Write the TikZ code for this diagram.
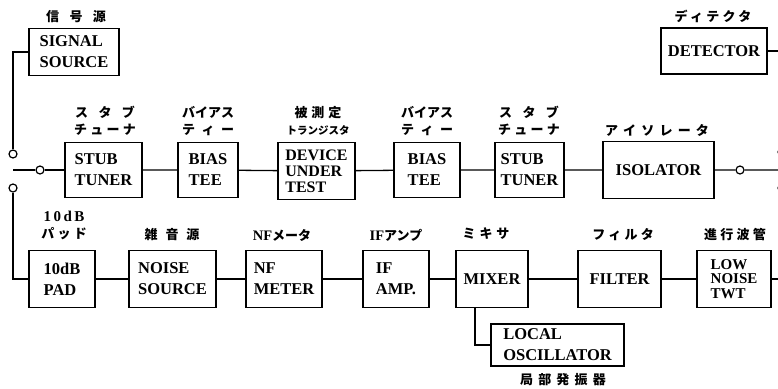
\documentclass[tikz,border=0pt]{standalone}
\usepackage{fontspec}
\setmainfont{Liberation Serif}
\newfontfamily\jfont{Noto Sans CJK JP}
\newfontfamily\jfontw{Noto Sans CJK JP}[LetterSpace=25]
\usetikzlibrary{positioning}

\begin{document}
\begin{tikzpicture}[x=1pt, y=-1pt,
    blk/.style={draw, line width=1.6pt, align=left, inner sep=2pt,
      font=\fontsize{16.5}{21}\selectfont\bfseries},
    jlab/.style={font=\fontsize{13}{17}\selectfont\jfont\bfseries, align=center, inner sep=0pt},
    jlabw/.style={jlab, font=\fontsize{13}{17}\selectfont\jfontw\bfseries},
    term/.style={circle, draw, fill=white, line width=1.2pt, minimum size=8pt, inner sep=0pt},
    wire/.style={line width=1.3pt}]
  \useasboundingbox (0,0) rectangle (778,388);
  \clip (0,0) rectangle (778,388);
  % upper blocks
  \node[blk, minimum width=90pt, minimum height=47pt]  (sigsrc) at (74,52)    {SIGNAL\\SOURCE};
  \node[blk, minimum width=106pt, minimum height=46pt] (det)    at (714,51)   {DETECTOR};
  \node[blk, minimum width=77pt, minimum height=55pt]  (stub1)  at (103.5,170) {STUB\\TUNER};
  \node[blk, minimum width=60pt, minimum height=55pt]  (bias1)  at (208,170)  {BIAS\\TEE};
  \node[blk, minimum width=77pt, minimum height=57pt, font=\fontsize{16}{16}\selectfont\bfseries]
                                                       (dut)    at (316.5,171) {DEVICE\\UNDER\\TEST};
  \node[blk, minimum width=66pt, minimum height=55pt]  (bias2)  at (427,170)  {BIAS\\TEE};
  \node[blk, minimum width=69pt, minimum height=55pt]  (stub2)  at (529.5,170) {STUB\\TUNER};
  \node[blk, minimum width=111pt, minimum height=57pt] (iso)    at (658.5,170) {ISOLATOR};
  % lower blocks
  \node[blk, minimum width=66pt, minimum height=57pt]  (pad)    at (62,279)   {10dB\\PAD};
  \node[blk, minimum width=87pt, minimum height=57pt]  (noise)  at (172.5,279) {NOISE\\SOURCE};
  \node[blk, minimum width=76pt, minimum height=57pt]  (nfm)    at (284,279)  {NF\\METER};
  \node[blk, minimum width=66pt, minimum height=57pt]  (ifamp)  at (396,279)  {IF\\AMP.};
  \node[blk, minimum width=72pt, minimum height=57pt]  (mixer)  at (492,279)  {MIXER};
  \node[blk, minimum width=83pt, minimum height=57pt]  (filter) at (619.5,279) {FILTER};
  \node[blk, minimum width=74pt, minimum height=57pt, font=\fontsize{15}{14.5}\selectfont\bfseries]
                                                       (twt)    at (734,279)  {LOW\\NOISE\\TWT};
  \node[blk, minimum width=133pt, minimum height=42pt] (lo)     at (557.5,345) {LOCAL\\OSCILLATOR};
  % switches
  \node[term] (swl1) at (13,154) {};
  \node[term] (swl2) at (13,188) {};
  \node[term] (pivl) at (40,170) {};
  \coordinate (arml) at (13,170);
  \node[term] (swr1) at (782,152) {};
  \node[term] (swr2) at (782,188) {};
  \node[term] (pivr) at (740,170) {};
  \coordinate (armr) at (782,170);
  \coordinate (mixtap) at (475,307.5);
  % wiring
  \draw[wire] (sigsrc.west) -| (swl1);
  \draw[wire] (swl2) |- (pad);
  \draw[wire] (arml) -- (pivl) -- (stub1);
  \draw[wire] (stub1) -- (bias1) -- (dut) -- (bias2) -- (stub2) -- (iso) -- (pivr) -- (armr);
  \draw[wire] (det) -| (swr1);
  \draw[wire] (swr2) |- (twt);
  \draw[wire] (pad) -- (noise) -- (nfm) -- (ifamp) -- (mixer) -- (filter) -- (twt);
  \draw[wire] (mixtap) |- (lo);
  % labels
  \node[jlab]  (lsig)   at (76,17)    {信\hspace{0.8em}号\hspace{0.8em}源};
  \node[jlabw] (ldet)   at (713,16)   {ディテクタ};
  \node[jlab]  (lstub1) at (105,121)  {ス\hspace{0.8em}タ\hspace{0.8em}ブ\\{\jfontw チューナ}};
  \node[jlab]  (lbias1) at (208,121)  {バイアス\\テ\hspace{0.5em}ィ\hspace{0.5em}ー};
  \node[jlab]  (ldut)   at (318,121)  {被\hspace{0.3em}測\hspace{0.3em}定\\{\fontsize{10.5}{12}\selectfont トランジスタ}};
  \node[jlab]  (lbias2) at (427,121)  {バイアス\\テ\hspace{0.5em}ィ\hspace{0.5em}ー};
  \node[jlab]  (lstub2) at (529,121)  {ス\hspace{0.8em}タ\hspace{0.8em}ブ\\{\jfontw チューナ}};
  \node[jlab]  (liso)   at (657,130)  {ア\hspace{0.4em}イ\hspace{0.4em}ソ\hspace{0.4em}レ\hspace{0.4em}ー\hspace{0.4em}タ};
  \node[jlab]  (lpad)   at (64,225)   {{\rmfamily\bfseries\fontsize{15}{17}\selectfont 1\,0\,d\,B}\\{\jfontw パッド}};
  \node[jlab]  (lnoise) at (172,235)  {雑\hspace{0.6em}音\hspace{0.6em}源};
  \node[jlab]  (lnfm)   at (282,235)  {{\rmfamily\bfseries\fontsize{14.5}{17}\selectfont NF}メータ};
  \node[jlab]  (lifamp) at (396,235)  {{\rmfamily\bfseries\fontsize{14.5}{17}\selectfont IF}アンプ};
  \node[jlabw] (lmixer) at (486,234)  {ミ\hspace{0.3em}キ\hspace{0.3em}サ};
  \node[jlabw] (lfilt)  at (623,235)  {フィルタ};
  \node[jlabw] (ltwt)   at (735,235)  {進行波管};
  \node[jlab]  (llo)    at (563,380)  {局\hspace{0.4em}部\hspace{0.4em}発\hspace{0.4em}振\hspace{0.4em}器};
\end{tikzpicture}
\end{document}
